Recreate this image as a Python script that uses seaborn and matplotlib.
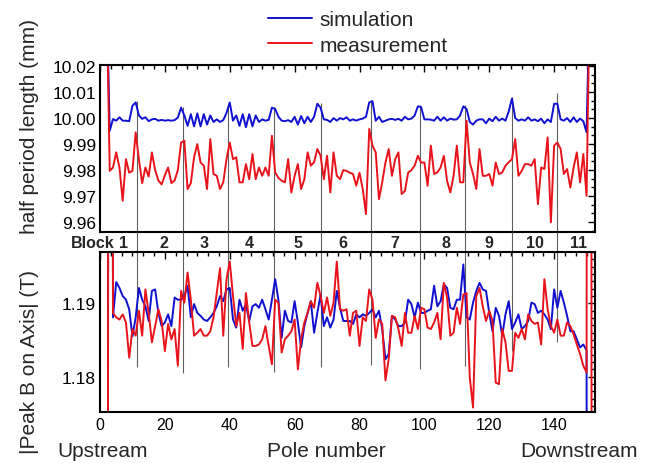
import numpy as np
import pandas as pd
import matplotlib
matplotlib.use('Agg')
import matplotlib.pyplot as plt
import seaborn as sns
from matplotlib.ticker import MultipleLocator, AutoMinorLocator, FormatStrFormatter
from matplotlib.lines import Line2D

# ---- data ----
# half period length (mm), poles 2..151 (end poles fall outside the axis range)
top_poles = list(range(2, 152))
top_sim = [10.05,
    9.9951, 9.9996, 9.9990, 10.0003, 9.9990, 9.9990, 9.9988, 10.0047, 10.0060, 10.0010,
    9.9997, 10.0003, 9.9988, 9.9995, 9.9997, 9.9990, 9.9993, 9.9990, 9.9992, 9.9990,
    9.9992, 10.0002, 10.0040, 10.0010, 9.9970, 10.0015, 9.9968, 10.0018, 9.9968, 10.0015,
    9.9975, 10.0010, 9.9985, 9.9995, 9.9985, 9.9992, 10.0020, 10.0060, 9.9990, 10.0010,
    9.9970, 10.0015, 9.9965, 10.0015, 9.9968, 10.0010, 9.9985, 9.9995, 9.9990, 9.9993,
    10.0040, 10.0035, 10.0005, 9.9990, 9.9988, 9.9992, 9.9985, 10.0005, 9.9975, 10.0008,
    9.9980, 10.0005, 9.9985, 10.0005, 10.0055, 10.0040, 9.9995, 9.9993, 9.9985, 10.0000,
    9.9990, 10.0000, 9.9995, 10.0003, 9.9990, 9.9995, 9.9990, 9.9995, 9.9998, 10.0005,
    10.0060, 10.0065, 9.9990, 10.0005, 9.9985, 9.9990, 9.9995, 9.9997, 9.9993, 9.9997,
    9.9990, 10.0005, 9.9995, 9.9998, 10.0010, 10.0045, 10.0042, 9.9995, 9.9995, 9.9994,
    9.9990, 10.0005, 9.9990, 10.0003, 9.9990, 9.9998, 9.9994, 9.9995, 10.0010, 10.0045,
    10.0035, 9.9985, 9.9975, 9.9990, 9.9995, 9.9995, 9.9980, 9.9998, 9.9988, 10.0005,
    9.9990, 9.9998, 9.9990, 10.0025, 10.0075, 10.0000, 9.9990, 9.9995, 9.9990, 10.0003,
    9.9990, 9.9995, 9.9988, 9.9998, 9.9980, 9.9995, 9.9985, 10.0055, 10.0055, 9.9995,
    9.9990, 10.0000, 9.9985, 10.0003, 9.9985, 9.9998, 9.9988, 9.9945,
    10.05]
top_meas = [10.05,
    9.9797, 9.9810, 9.9868, 9.9810, 9.9682, 9.9842, 9.9790, 9.9797, 9.9945, 9.9840,
    9.9750, 9.9810, 9.9775, 9.9868, 9.9800, 9.9760, 9.9745, 9.9780, 9.9810, 9.9750,
    9.9760, 9.9800, 9.9906, 9.9913, 9.9727, 9.9750, 9.9850, 9.9900, 9.9829, 9.9817,
    9.9727, 9.9919, 9.9785, 9.9778, 9.9727, 9.9753, 9.9842, 9.9906, 9.9842, 9.9849,
    9.9753, 9.9753, 9.9823, 9.9765, 9.9862, 9.9765, 9.9810, 9.9778, 9.9810, 9.9778,
    9.9932, 9.9791, 9.9770, 9.9759, 9.9753, 9.9842, 9.9714, 9.9778, 9.9823, 9.9727,
    9.9765, 9.9868, 9.9817, 9.9830, 9.9881, 9.9855, 9.9765, 9.9855, 9.9714, 9.9868,
    9.9778, 9.9765, 9.9800, 9.9797, 9.9790, 9.9785, 9.9740, 9.9790, 9.9727, 9.9631,
    9.9958, 9.9894, 9.9868, 9.9688, 9.9753, 9.9829, 9.9881, 9.9778, 9.9842, 9.9868,
    9.9708, 9.9720, 9.9790, 9.9800, 9.9817, 9.9855, 9.9829, 9.9829, 9.9740, 9.9894,
    9.9785, 9.9791, 9.9810, 9.9855, 9.9759, 9.9714, 9.9778, 9.9894, 9.9753, 9.9753,
    9.9990, 9.9829, 9.9785, 9.9727, 9.9881, 9.9778, 9.9778, 9.9785, 9.9740, 9.9829,
    9.9785, 9.9791, 9.9817, 9.9830, 9.9842, 9.9919, 9.9778, 9.9797, 9.9823, 9.9823,
    9.9817, 9.9842, 9.9669, 9.9810, 9.9804, 9.9926, 9.9599, 9.9894, 9.9906, 9.9881,
    9.9785, 9.9804, 9.9733, 9.9810, 9.9868, 9.9753, 9.9862, 9.9701,
    10.05]

# |peak B on axis| (T), poles 2..152
bot_poles = list(range(2, 153))
bot_sim = [0.8, 1.6,
    1.1881, 1.1929, 1.1921, 1.1910, 1.1905, 1.1892, 1.1855, 1.1881, 1.1921,
    1.1905, 1.1896, 1.1876, 1.1917, 1.1919, 1.1887, 1.1869, 1.1874, 1.1885, 1.1869,
    1.1908, 1.1905, 1.1905, 1.1910, 1.1924, 1.1881, 1.1899, 1.1887, 1.1883, 1.1878,
    1.1876, 1.1881, 1.1887, 1.1896, 1.1910, 1.1903, 1.1919, 1.1921, 1.1878, 1.1867,
    1.1905, 1.1890, 1.1899, 1.1876, 1.1896, 1.1899, 1.1894, 1.1905, 1.1892, 1.1878,
    1.1905, 1.1933, 1.1905, 1.1853, 1.1890, 1.1876, 1.1874, 1.1903, 1.1874, 1.1840,
    1.1869, 1.1887, 1.1903, 1.1860, 1.1887, 1.1912, 1.1869, 1.1881, 1.1867, 1.1878,
    1.1917, 1.1894, 1.1876, 1.1876, 1.1876, 1.1872, 1.1885, 1.1881, 1.1885, 1.1883,
    1.1887, 1.1892, 1.1881, 1.1890, 1.1865, 1.1824, 1.1831, 1.1883, 1.1878, 1.1869,
    1.1869, 1.1874, 1.1905, 1.1899, 1.1881, 1.1901, 1.1887, 1.1887, 1.1890, 1.1892,
    1.1924, 1.1896, 1.1903, 1.1926, 1.1921, 1.1894, 1.1892, 1.1905, 1.1905, 1.1953,
    1.1881, 1.1878, 1.1901, 1.1917, 1.1928, 1.1919, 1.1917, 1.1887, 1.1862, 1.1894,
    1.1883, 1.1856, 1.1885, 1.1903, 1.1865, 1.1874, 1.1885, 1.1865, 1.1869, 1.1876,
    1.1901, 1.1899, 1.1887, 1.1890, 1.1885, 1.1878, 1.1865, 1.1919, 1.1894, 1.1917,
    1.1901, 1.1883, 1.1862, 1.1862, 1.1851, 1.1840, 1.1844, 1.1836,
    0.8, 0.8]
bot_meas = [0.8, 1.6,
    1.1887, 1.1881, 1.1878, 1.1885, 1.1874, 1.1826, 1.1865, 1.1856, 1.1890,
    1.1856, 1.1919, 1.1887, 1.1847, 1.1869, 1.1892, 1.1876, 1.1835, 1.1872, 1.1851,
    1.1865, 1.1815, 1.1917, 1.1901, 1.1942, 1.1905, 1.1856, 1.1860, 1.1865, 1.1856,
    1.1856, 1.1862, 1.1881, 1.1914, 1.1948, 1.1856, 1.1933, 1.1957, 1.1910, 1.1869,
    1.1887, 1.1838, 1.1914, 1.1874, 1.1842, 1.1842, 1.1844, 1.1851, 1.1869, 1.1842,
    1.1817, 1.1905, 1.1901, 1.1833, 1.1851, 1.1856, 1.1862, 1.1878, 1.1810, 1.1851,
    1.1874, 1.1887, 1.1903, 1.1894, 1.1928, 1.1910, 1.1887, 1.1908, 1.1883, 1.1901,
    1.1957, 1.1892, 1.1890, 1.1892, 1.1856, 1.1887, 1.1890, 1.1842, 1.1881, 1.1876,
    1.1919, 1.1905, 1.1853, 1.1878, 1.1872, 1.1795, 1.1824, 1.1883, 1.1881, 1.1865,
    1.1842, 1.1887, 1.1860, 1.1860, 1.1883, 1.1865, 1.1894, 1.1892, 1.1867, 1.1865,
    1.1874, 1.1887, 1.1851, 1.1928, 1.1908, 1.1856, 1.1860, 1.1894, 1.1872, 1.1912,
    1.1914, 1.1799, 1.1758, 1.1910, 1.1921, 1.1896, 1.1876, 1.1890, 1.1876, 1.1792,
    1.1790, 1.1865, 1.1847, 1.1808, 1.1808, 1.1860, 1.1853, 1.1865, 1.1851, 1.1885,
    1.1876, 1.1872, 1.1874, 1.1844, 1.1933, 1.1892, 1.1869, 1.1860, 1.1878, 1.1856,
    1.1856, 1.1874, 1.1869, 1.1858, 1.1844, 1.1831, 1.1815, 1.1806,
    1.6, 0.8]

# magnet blocks
block_edges = [11.5, 25.5, 39.5, 53.5, 68, 83.5, 98.5, 112.5, 127, 141]
edge_top = [10.0067, 10.0042, 10.0058, 10.0042, 10.0058, 10.0068, 10.0050, 10.0050, 10.0080, 10.0098]
edge_bot = [1.1813, 1.1805, 1.1813, 1.1807, 1.1813, 1.1816, 1.1810, 1.1815, 1.1835, 1.1847]
block_labels = ['1', '2', '3', '4', '5', '6', '7', '8', '9', '10', '11']
block_pos = [7.3, 19.7, 32, 46, 61, 75, 91, 106.5, 120, 134, 147.5]

BLUE = '#1010d0'
RED = '#e8141c'
XMAX = 152.6

sns.set_theme(style='white')
plt.rcParams['font.family'] = ['Liberation Sans', 'DejaVu Sans']

df_top = pd.DataFrame({'pole': top_poles * 2,
                       'value': top_sim + top_meas,
                       'series': ['simulation'] * len(top_poles) + ['measurement'] * len(top_poles)})
df_bot = pd.DataFrame({'pole': bot_poles * 2,
                       'value': bot_sim + bot_meas,
                       'series': ['simulation'] * len(bot_poles) + ['measurement'] * len(bot_poles)})
pal = {'simulation': BLUE, 'measurement': RED}

W, H = 647, 464
def box(l, t, r, b):
    return [l / W, 1 - b / H, (r - l) / W, (b - t) / H]

fig = plt.figure(figsize=(W / 100, H / 100), dpi=100)
ax1 = fig.add_axes(box(100, 66, 595, 233))
axb = fig.add_axes(box(100, 233, 595, 253))
ax2 = fig.add_axes(box(100, 253, 595, 413))

for ax, df in [(ax1, df_top), (ax2, df_bot)]:
    sns.lineplot(data=df, x='pole', y='value', hue='series', palette=pal,
                 hue_order=['simulation', 'measurement'], estimator=None,
                 lw=1.4, ax=ax, legend=False)
    ax.set_xlim(0, XMAX)
    ax.set_xlabel('')
    ax.set_ylabel('')
    ax.xaxis.set_major_locator(MultipleLocator(20))
    ax.xaxis.set_minor_locator(AutoMinorLocator(6))
    ax.tick_params(which='both', direction='in', top=True, right=True,
                   colors='black', width=1)
    ax.tick_params(axis='x', labelsize=11.5)
    ax.tick_params(axis='y', labelsize=12.5, pad=3)
    ax.tick_params(which='major', length=5)
    ax.tick_params(which='minor', length=3)
    for s in ax.spines.values():
        s.set_color('black')
        s.set_linewidth(1.5)

ax1.set_ylim(9.9562, 10.0204)
ax1.yaxis.set_major_locator(MultipleLocator(0.01))
ax1.yaxis.set_minor_locator(AutoMinorLocator(3))
ax1.yaxis.set_major_formatter(FormatStrFormatter('%.2f'))
ax1.tick_params(labelbottom=False)
ax1.vlines(block_edges, 9.9562, edge_top, color='#606060', lw=0.8, zorder=1)

ax2.set_ylim(1.1752, 1.1970)
ax2.yaxis.set_major_locator(MultipleLocator(0.01))
ax2.yaxis.set_minor_locator(AutoMinorLocator(10))
ax2.yaxis.set_major_formatter(FormatStrFormatter('%.2f'))
ax2.vlines(block_edges, edge_bot, 1.1970, color='#606060', lw=0.8, zorder=1)

# block label strip
axb.set_xlim(0, XMAX)
axb.set_ylim(0, 1)
axb.axis('off')
axb.vlines(block_edges, 0, 1, color='#606060', lw=0.8)
for lab, x in zip(block_labels, block_pos):
    axb.text(x, 0.45, lab, ha='center', va='center', fontsize=11.5, fontweight='bold')
axb.text(4.6, 0.45, 'Block', ha='right', va='center', fontsize=11.5, fontweight='bold')

fig.text(30 / W, 1 - 127 / H, 'half period length (mm)', rotation=90,
         ha='center', va='center', fontsize=15)
fig.text(30 / W, 1 - 362 / H, '|Peak B on Axis| (T)', rotation=90,
         ha='center', va='center', fontsize=15)
fig.text(57 / W, 1 - 452 / H, 'Upstream', ha='left', va='center', fontsize=15)
fig.text(326 / W, 1 - 452 / H, 'Pole number', ha='center', va='center', fontsize=15)
fig.text(520 / W, 1 - 452 / H, 'Downstream', ha='left', va='center', fontsize=15)

handles = [Line2D([], [], color=BLUE, lw=1.4), Line2D([], [], color=RED, lw=1.4)]
fig.legend(handles, ['simulation', 'measurement'], loc='upper center',
           bbox_to_anchor=(0.553, 1.0), frameon=False, fontsize=15,
           handlelength=2.1, labelspacing=0.3, handletextpad=0.35, borderaxespad=0.15)

fig.savefig('out.png', dpi=100, facecolor='white')
